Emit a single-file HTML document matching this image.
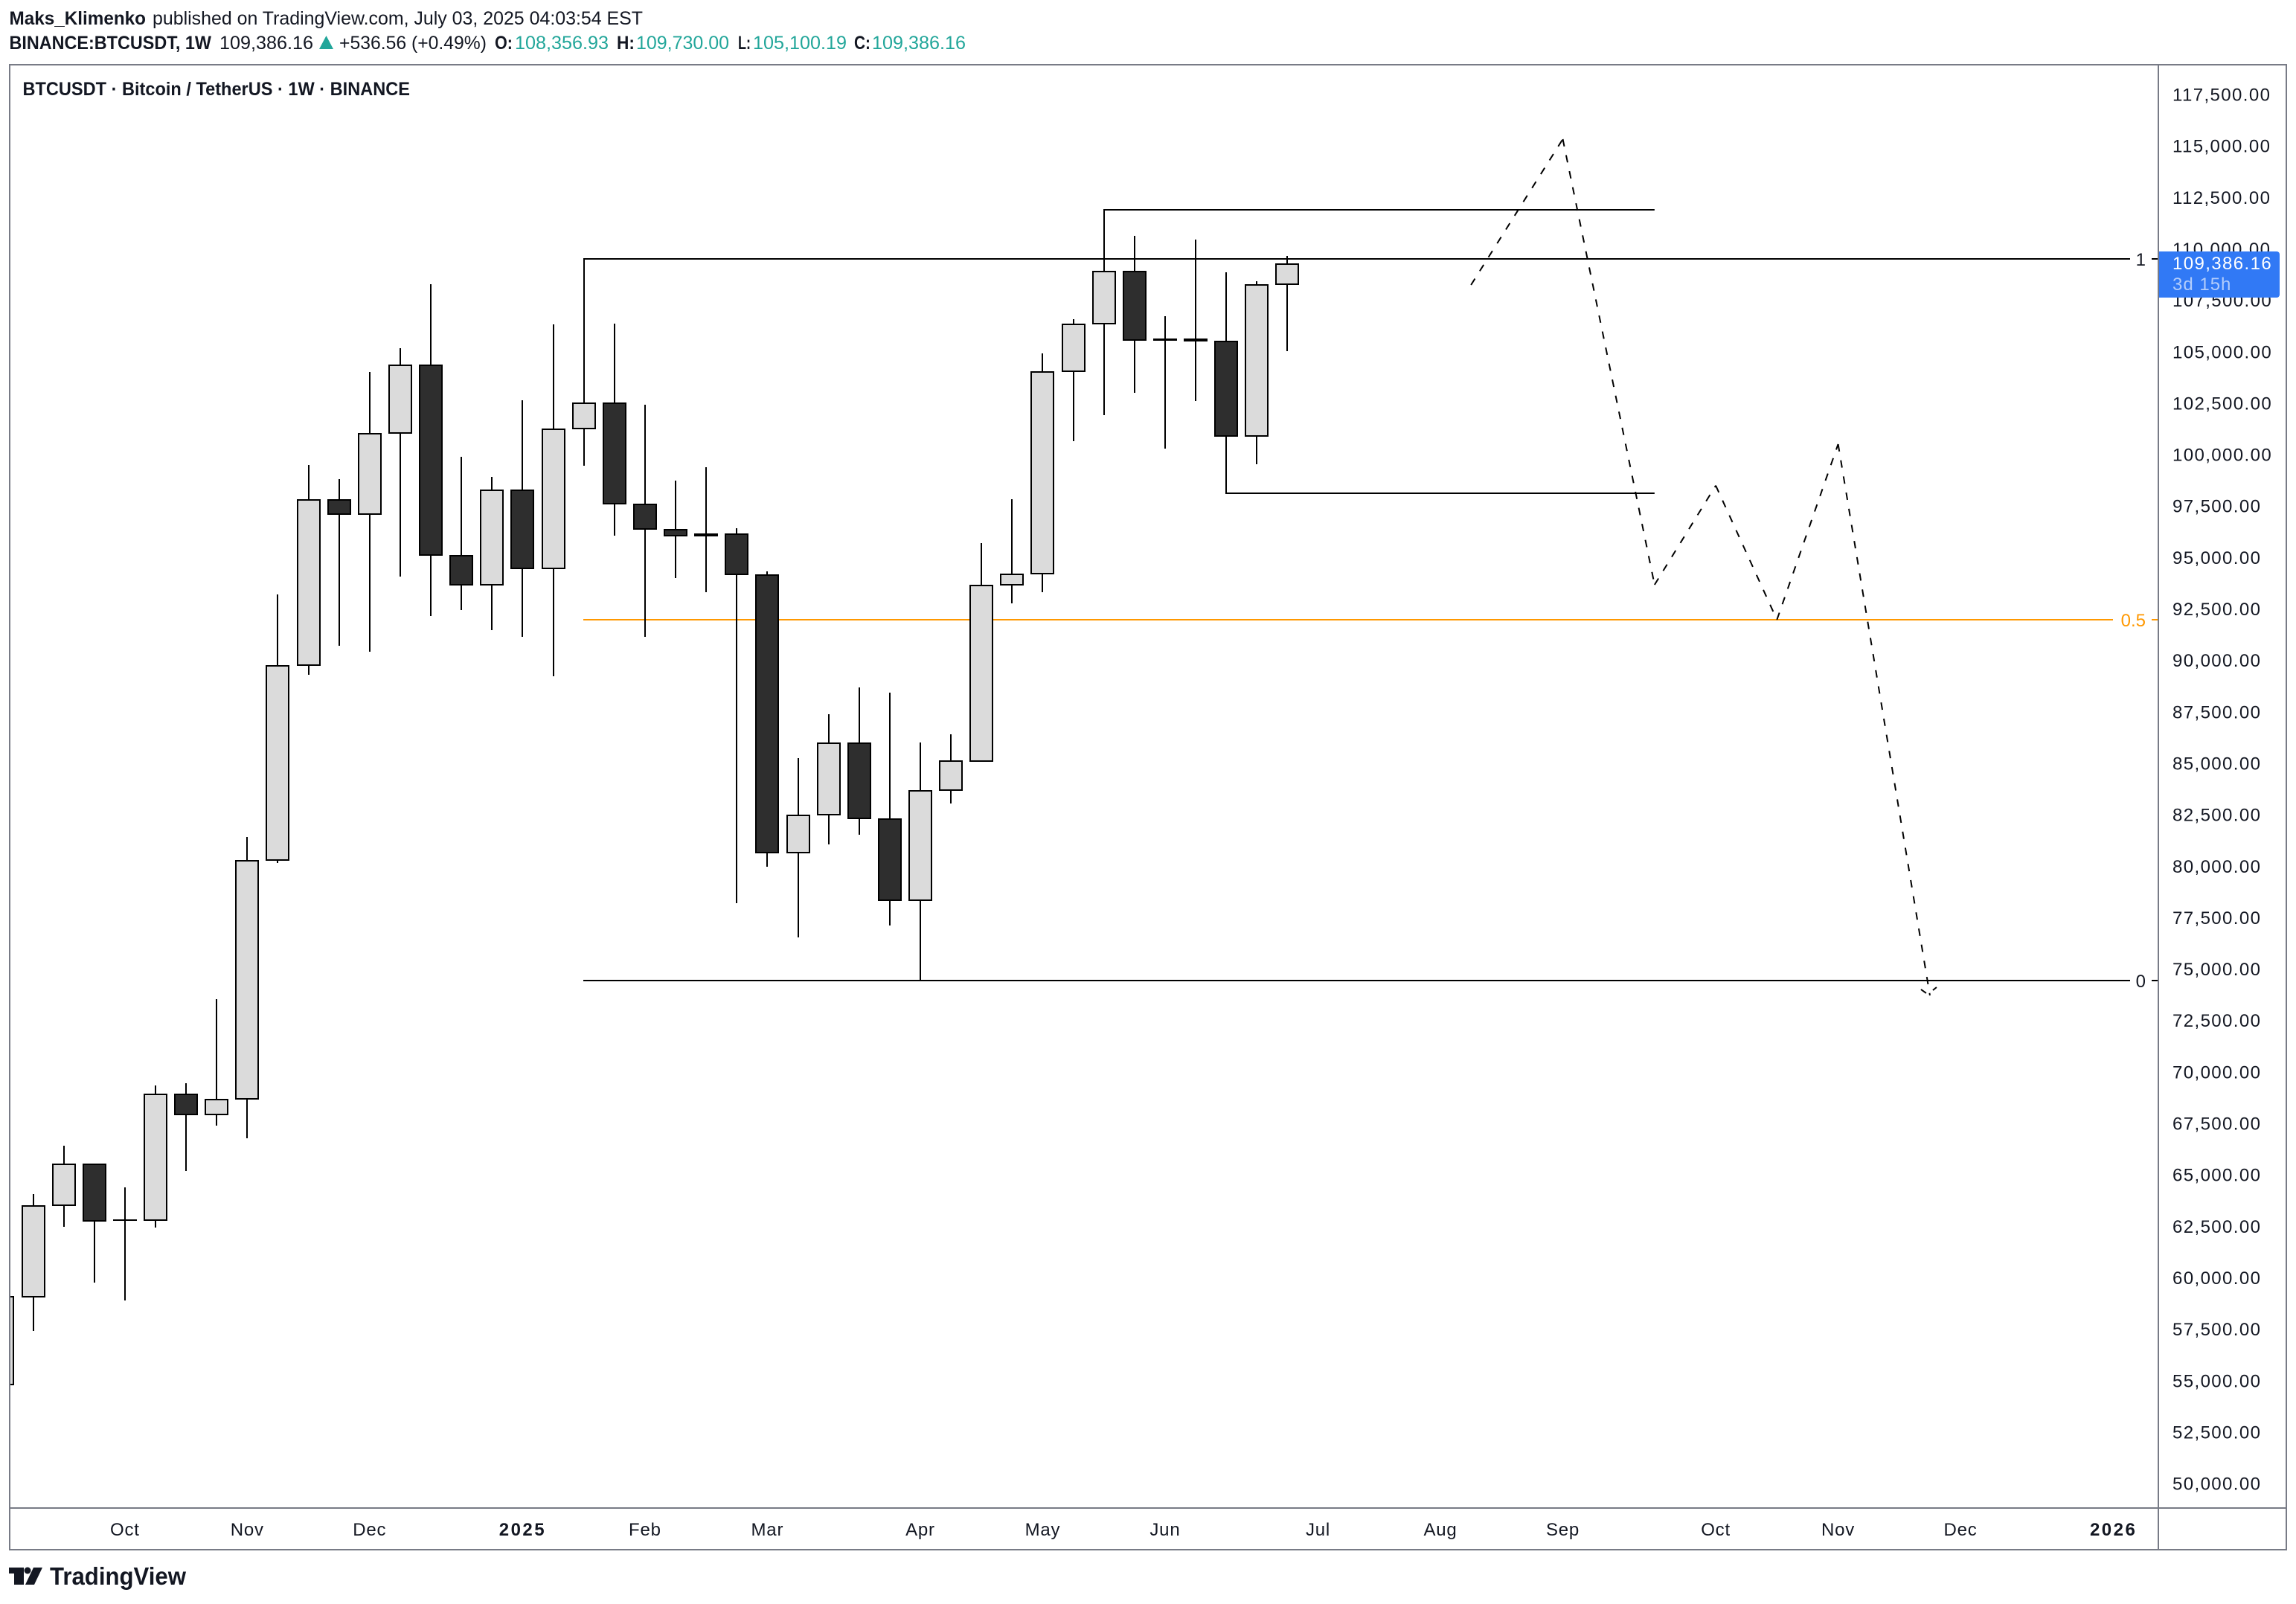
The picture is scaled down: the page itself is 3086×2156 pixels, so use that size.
<!DOCTYPE html>
<html lang="en">
<head>
<meta charset="utf-8">
<title>BTCUSDT 1W chart</title>
<style>
html,body{margin:0;padding:0;background:#fff;width:3086px;height:2156px;overflow:hidden}
svg{display:block}
text{font-family:"Liberation Sans",sans-serif;fill:#131722}
</style>
</head>
<body>
<svg id="chart" xmlns="http://www.w3.org/2000/svg" width="3086" height="2156" viewBox="0 0 3086 2156">
  <rect x="0" y="0" width="3086" height="2156" fill="#ffffff"/>
  <defs>
    <clipPath id="plot-clip"><rect x="14" y="88" width="2886" height="1938"/></clipPath>
  </defs>

  <g font-size="25">
    <text x="12.5" y="33" font-weight="700" textLength="183.5" lengthAdjust="spacingAndGlyphs">Maks_Klimenko</text>
    <text x="205" y="33" textLength="659" lengthAdjust="spacingAndGlyphs">published on TradingView.com, July 03, 2025 04:03:54 EST</text>
    <text x="12.5" y="66" font-weight="700" textLength="271.5" lengthAdjust="spacingAndGlyphs">BINANCE:BTCUSDT, 1W</text>
    <text x="295" y="66" textLength="126" lengthAdjust="spacingAndGlyphs">109,386.16</text>
    <polygon points="429,66 448,66 438.5,48" fill="#22a69a"/>
    <text x="456" y="66" textLength="198" lengthAdjust="spacingAndGlyphs">+536.56 (+0.49%)</text>
    <text x="665" y="66" font-weight="700" textLength="24" lengthAdjust="spacingAndGlyphs">O:</text>
    <text x="692" y="66" style="fill:#22a69a" textLength="126" lengthAdjust="spacingAndGlyphs">108,356.93</text>
    <text x="829" y="66" font-weight="700" textLength="24" lengthAdjust="spacingAndGlyphs">H:</text>
    <text x="855" y="66" style="fill:#22a69a" textLength="125" lengthAdjust="spacingAndGlyphs">109,730.00</text>
    <text x="992" y="66" font-weight="700" textLength="17" lengthAdjust="spacingAndGlyphs">L:</text>
    <text x="1012" y="66" style="fill:#22a69a" textLength="126" lengthAdjust="spacingAndGlyphs">105,100.19</text>
    <text x="1148" y="66" font-weight="700" textLength="22" lengthAdjust="spacingAndGlyphs">C:</text>
    <text x="1172" y="66" style="fill:#22a69a" textLength="126" lengthAdjust="spacingAndGlyphs">109,386.16</text>
  </g>

  <g id="plot" clip-path="url(#plot-clip)"></g>

  <g id="price-axis"></g>
  <g id="time-axis"></g>

  <g fill="none" stroke="#787b86" stroke-width="2">
    <rect x="13" y="87" width="3060" height="1996"/>
    <line x1="2901" y1="87" x2="2901" y2="2083"/>
    <line x1="13" y1="2027" x2="3073" y2="2027"/>
  </g>

  <g id="overlay"></g>

  <text x="30.5" y="128" font-size="25" font-weight="700" textLength="520.5" lengthAdjust="spacingAndGlyphs">BTCUSDT · Bitcoin / TetherUS · 1W · BINANCE</text>

  <g fill="#131722">
    <path d="M12 2107H32V2130H19V2115H12Z"/>
    <circle cx="37" cy="2111" r="4.5"/>
    <polygon points="45,2107 57,2107 46,2130 34,2130"/>
    <text x="67" y="2130" font-size="33" font-weight="700" textLength="183" lengthAdjust="spacingAndGlyphs">TradingView</text>
  </g>
</svg>

<script>
// OHLC values, one entry per weekly bar. First bar is index -1.
const opens  = [54919,59185,63632,65621,62909,62909,69030,68043,68802,80407,89879,97905,97218,101159,104449,95194,93784,98375,94561,101376,102605,97688,96459,96242,96242,94254,80769,82612,86083,82396,78455,83806,85215,93784,94326,104160,106473,109004,105714,105714,105616,101014,108390];
const highs  = [59300,64174,66524,65621,64500,69453,69561,73647,81528,93314,99604,98917,104123,105280,108390,100002,99026,102750,106437,109619,106473,102533,98845,99496,96531,94434,85360,87493,88795,88542,86119,86517,95808,97941,105027,106690,112005,110740,106835,110559,108968,108552,109763];
const lows   = [54000,57533,62584,59872,58986,62530,65295,67501,66900,80263,89409,90819,90530,94181,92265,92555,91578,91268,89319,99586,96170,91268,94109,93422,78310,80064,76647,81166,81618,77208,74550,83155,85215,92862,93422,100776,102027,103129,100414,102728,98245,99655,105146];
const closes = [59185,63607,65621,62887,62909,69030,68043,68766,80382,89843,97905,97218,101123,104449,95230,93784,98375,94561,101340,102605,97724,96495,96152,96170,94290,80769,82576,86083,82432,78455,83780,85215,93762,94290,104138,106437,109004,105678,105678,105640,101014,108353,109366];

const firstBarIndex = -1;

const priceTicks = [117500,115000,112500,110000,107500,105000,102500,100000,97500,95000,92500,90000,87500,85000,82500,80000,77500,75000,72500,70000,67500,65000,62500,60000,57500,55000,52500,50000];

const timeTickLabels = ["Oct","Nov","Dec","2025","Feb","Mar","Apr","May","Jun","Jul","Aug","Sep","Oct","Nov","Dec","2026"];
const timeTickBars   = [3,7,11,16,20,24,29,33,37,42,46,50,55,59,63,68];
const timeTickBold   = ["2025","2026"];

const fibHighPrice = 109619;
const fibLowPrice  = 74550;
const fibStartBar  = 18;
const fibRatios    = [1,0.5,0];
const fibLabels    = ["1","0.5","0"];

const levelStartBars = [35,39];
const levelPrices    = [112005,98245];
const levelEndBar    = 53;

const forecastBars   = [47,50,53,55,57,59,62];
const forecastPrices = [108353,115439,93784,98603,92085,100617,73827];

const lastPriceCountdown = "3d 15h";

const SVGNS = "http://www.w3.org/2000/svg";
const plot = document.getElementById("plot");
const priceAxis = document.getElementById("price-axis");
const timeAxis = document.getElementById("time-axis");
const overlay = document.getElementById("overlay");

function xScale(bar){ return 44.5 + 41.12 * bar; }
function yScale(price){ return 130 + (117500 - price) * 69.15 / 2500; }

function make(tag, attrs, parent){
  const el = document.createElementNS(SVGNS, tag);
  for (const k in attrs) el.setAttribute(k, attrs[k]);
  parent.appendChild(el);
  return el;
}

const plotRightX = 2901;

// Fib retracement levels
fibRatios.forEach(function(r, n){
  const price = fibLowPrice + (fibHighPrice - fibLowPrice) * r;
  const y = Math.round(yScale(price));
  const color = r === 0.5 ? "#ff9800" : "#000000";
  const labelLeft = r === 0.5 ? 2851 : 2874;
  const a = make("line", {x1: Math.round(xScale(fibStartBar)) - 1, y1: y, x2: labelLeft - 11, y2: y, stroke: color, "stroke-width": 2}, plot);
  
  
  const b = make("line", {x1: 2892, y1: y, x2: plotRightX, y2: y, stroke: color, "stroke-width": 2}, plot);
  
  
  const t = make("text", {x: 2884, y: y + 9, "text-anchor": "end", "font-size": 24}, plot);
  
  
  t.style.fill = r === 0.5 ? "#ff9800" : "#131722";
  t.textContent = fibLabels[n];
});

// Horizontal levels
levelPrices.forEach(function(p, n){
  const y = Math.round(yScale(p));
  const l = make("line", {x1: Math.round(xScale(levelStartBars[n])) - 1, y1: y, x2: xScale(levelEndBar), y2: y, stroke: "#000", "stroke-width": 2}, plot);
  
  
});

// Candles
closes.forEach(function(c, n){
  const bar = firstBarIndex + n;
  const cx = Math.round(xScale(bar));
  const o = opens[n];
  const up = c >= o;
  const g = make("g", {}, plot);
  
  
  const wick = make("line", {x1: cx, x2: cx, y1: Math.round(yScale(highs[n])), y2: Math.round(yScale(lows[n])), stroke: "#000", "stroke-width": 2}, g);
  
  
  const top = Math.round(yScale(Math.max(o, c)));
  const bot = Math.round(yScale(Math.min(o, c)));
  const body = make("rect", {x: cx - 15, y: top, width: 30, height: Math.max(0.01, bot - top), fill: up ? "#dbdbdb" : "#2e2e2e", stroke: "#000", "stroke-width": 2}, g);
  
  
});

// Forecast dashed path: each leg restarts its dash pattern
for (let n = 0; n < forecastBars.length - 1; n++){
  const leg = make("line", {
    x1: xScale(forecastBars[n]), y1: yScale(forecastPrices[n]),
    x2: xScale(forecastBars[n + 1]), y2: yScale(forecastPrices[n + 1]),
    stroke: "#000", "stroke-width": 2, "stroke-dasharray": "10 12"
  }, plot);
  
  
}
const tipX = xScale(forecastBars[forecastBars.length - 1]);
const tipY = yScale(forecastPrices[forecastPrices.length - 1]);
const wingL = make("line", {x1: tipX - 5, y1: tipY - 3, x2: tipX - 12, y2: tipY - 8, stroke: "#000", "stroke-width": 2}, plot);


const wingR = make("line", {x1: tipX + 4, y1: tipY - 7, x2: tipX + 9, y2: tipY - 11, stroke: "#000", "stroke-width": 2}, plot);



// Price axis
function fmt(v){ return v.toLocaleString("en-US", {minimumFractionDigits: 2, maximumFractionDigits: 2}); }
priceTicks.forEach(function(p){
  const t = make("text", {x: 2920, y: yScale(p) + 5.5, "font-size": 24, "letter-spacing": 1.4}, priceAxis);
  
  
  t.textContent = fmt(p);
});

// Time axis
timeTickLabels.forEach(function(label, n){
  const bold = timeTickBold.indexOf(label) >= 0;
  const t = make("text", {x: xScale(timeTickBars[n]), y: 2064, "text-anchor": "middle", "font-size": 24, "font-weight": bold ? 700 : 400, "letter-spacing": bold ? 2.5 : 0.8}, timeAxis);
  
  
  t.textContent = label;
});

// Last-price badge
const lastClose = closes[closes.length - 1];
const badgeTop = Math.round(yScale(lastClose)) - 17;
const badge = make("path", {d: "M2902 " + badgeTop + "H3060a4 4 0 0 1 4 4V" + (badgeTop + 58) + "a4 4 0 0 1 -4 4H2902Z", fill: "#3179f5"}, overlay);


const badgePrice = make("text", {x: 2920, y: badgeTop + 24, "font-size": 24, "letter-spacing": 1.4}, overlay);


badgePrice.style.fill = "#ffffff";
badgePrice.textContent = "109,386.16";
const badgeTime = make("text", {x: 2920, y: badgeTop + 52, "font-size": 24, "letter-spacing": 1}, overlay);


badgeTime.style.fill = "#b3cdfb";
badgeTime.textContent = lastPriceCountdown;
</script>
</body>
</html>
